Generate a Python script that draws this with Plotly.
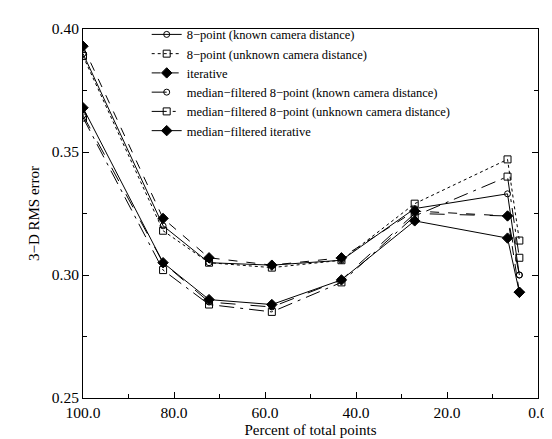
import plotly.graph_objects as go

percent = [100.0, 82.4, 72.3, 58.5, 43.2, 27.1, 6.7, 4.1]

pt8_known = [0.390, 0.320, 0.305, 0.304, 0.306, 0.327, 0.333, 0.300]
pt8_unknown = [0.389, 0.318, 0.305, 0.303, 0.306, 0.329, 0.347, 0.314]
iterative = [0.393, 0.323, 0.307, 0.304, 0.307, 0.326, 0.324, 0.293]
med_known = [0.365, 0.305, 0.289, 0.287, 0.298, 0.325, 0.324, 0.300]
med_unknown = [0.364, 0.302, 0.288, 0.285, 0.297, 0.324, 0.340, 0.307]
med_iterative = [0.368, 0.305, 0.290, 0.288, 0.298, 0.322, 0.315, 0.293]

names = [
    "8−point (known camera distance)",
    "8−point (unknown camera distance)",
    "iterative",
    "median−filtered 8−point (known camera distance)",
    "median−filtered 8−point (unknown camera distance)",
    "median−filtered iterative",
]
series = [pt8_known, pt8_unknown, iterative, med_known, med_unknown, med_iterative]
dashes = ["solid", "dot", "dash", "longdash", "longdashdot", "solid"]
symbols = ["circle-open", "square-open", "diamond", "circle-open", "square-open", "diamond"]
sizes = [6, 7, 8, 6, 7, 8]

FONT = "Liberation Serif"

fig = go.Figure()
for n, s, d, sym, sz in zip(names, series, dashes, symbols, sizes):
    fig.add_trace(go.Scatter(
        x=percent, y=s, name=n, mode="lines+markers",
        line=dict(color="black", width=1, dash=d),
        marker=dict(symbol=sym, size=sz, color="black", line=dict(color="black", width=1)),
    ))

fig.update_layout(
    width=552, height=439,
    margin=dict(l=75, r=12, t=15, b=45),
    paper_bgcolor="white", plot_bgcolor="white",
    font=dict(family=FONT, color="black", size=15),
    showlegend=True,
    legend=dict(x=0.14, y=1.025, xanchor="left", yanchor="top",
                bgcolor="rgba(0,0,0,0)", font=dict(family=FONT, size=12.5),
                tracegroupgap=0, itemwidth=30),
)
fig.update_xaxes(
    range=[100, 0], autorange=False,
    tickvals=[100, 80, 60, 40, 20, 0], tickformat=".1f",
    tickfont=dict(family=FONT, size=15.5),
    ticks="inside", ticklen=6, tickwidth=1, tickcolor="black",
    minor=dict(ticks="inside", ticklen=4, tickcolor="black", dtick=10, showgrid=False),
    showline=True, linecolor="black", linewidth=1, mirror=True,
    showgrid=False, zeroline=False,
    title=dict(text="Percent of total points", font=dict(family=FONT, size=15), standoff=4),
)
fig.update_yaxes(
    range=[0.25, 0.40], autorange=False,
    tickvals=[0.25, 0.30, 0.35, 0.40], tickformat=".2f",
    tickfont=dict(family=FONT, size=15.5),
    ticks="inside", ticklen=6, tickwidth=1, tickcolor="black",
    minor=dict(ticks="inside", ticklen=4, tickcolor="black", dtick=0.025, showgrid=False),
    showline=True, linecolor="black", linewidth=1, mirror="allticks",
    showgrid=False, zeroline=False,
    title=dict(text="3−D RMS error", font=dict(family=FONT, size=15), standoff=8),
)

fig.write_html("out.html")
